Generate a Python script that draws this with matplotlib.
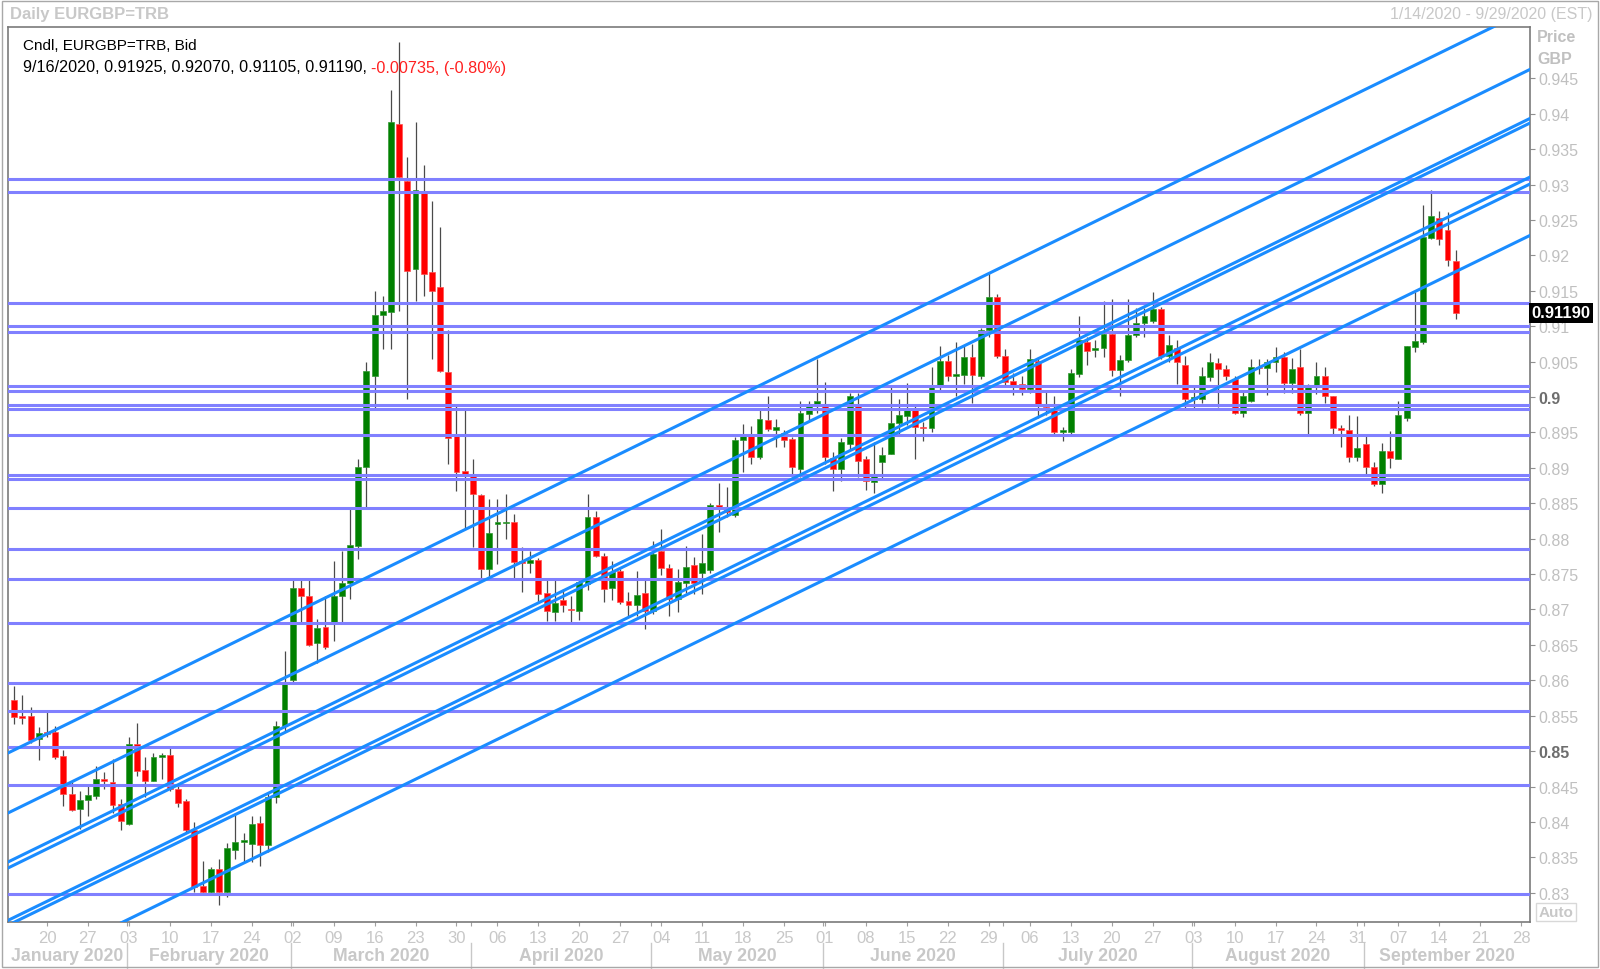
import numpy as np
import pandas as pd
import matplotlib
matplotlib.use('Agg')
import matplotlib.pyplot as plt
from matplotlib.patches import Rectangle
from matplotlib.transforms import blended_transform_factory

W, H = 1600, 970

# daily EURGBP bars, one per weekday from 14 Jan 2020 to 16 Sep 2020
opens = [0.8572, 0.8549, 0.8550, 0.8517, 0.8527, 0.8527, 0.8493, 0.8439, 0.8418, 0.8431,
         0.8437, 0.8460, 0.8456, 0.8426, 0.8397, 0.8510, 0.8473, 0.8458, 0.8492, 0.8495,
         0.8447, 0.8429, 0.8388, 0.8309, 0.8301, 0.8334, 0.8301, 0.8360, 0.8372, 0.8369,
         0.8398, 0.8367, 0.8435, 0.8536, 0.8600, 0.8730, 0.8719, 0.8653, 0.8675, 0.8683,
         0.8719, 0.8738, 0.8790, 0.8901, 0.9030, 0.9116, 0.9120, 0.9386, 0.9305, 0.9181,
         0.9289, 0.9176, 0.9156, 0.9036, 0.8945, 0.8895, 0.8888, 0.8861, 0.8757, 0.8821,
         0.8822, 0.8824, 0.8768, 0.8766, 0.8770, 0.8723, 0.8697, 0.8713, 0.8701, 0.8698,
         0.8736, 0.8830, 0.8776, 0.8730, 0.8754, 0.8712, 0.8707, 0.8723, 0.8698, 0.8782,
         0.8759, 0.8715, 0.8737, 0.8763, 0.8751, 0.8756, 0.8847, 0.8845, 0.8833, 0.8939,
         0.8945, 0.8915, 0.8967, 0.8953, 0.8949, 0.8941, 0.8898, 0.8976, 0.8988, 0.8988,
         0.8914, 0.8899, 0.8934, 0.8988, 0.8912, 0.8880, 0.8908, 0.8920, 0.8963, 0.8973,
         0.8981, 0.8958, 0.8956, 0.9014, 0.9051, 0.9030, 0.9031, 0.9056, 0.9030, 0.9094,
         0.9141, 0.9058, 0.9023, 0.9019, 0.9012, 0.9051, 0.8988, 0.8985, 0.8951, 0.8950,
         0.9033, 0.9078, 0.9067, 0.9069, 0.9089, 0.9038, 0.9052, 0.9087, 0.9104, 0.9108,
         0.9124, 0.9058, 0.9069, 0.9045, 0.8998, 0.8997, 0.9028, 0.9048, 0.9039, 0.9026,
         0.8978, 0.8995, 0.9043, 0.9041, 0.9050, 0.9056, 0.9020, 0.9042, 0.8978, 0.9016,
         0.9029, 0.9002, 0.8956, 0.8953, 0.8915, 0.8933, 0.8901, 0.8877, 0.8924, 0.8912,
         0.8971, 0.9071, 0.9078, 0.9225, 0.9253, 0.9236, 0.91925]
highs = [0.8592, 0.8579, 0.8562, 0.8534, 0.8555, 0.8535, 0.8502, 0.8458, 0.8444, 0.8451,
         0.8479, 0.8470, 0.8489, 0.8433, 0.8520, 0.8539, 0.8491, 0.8498, 0.8498, 0.8504,
         0.8454, 0.8433, 0.8400, 0.8345, 0.8336, 0.8348, 0.8370, 0.8411, 0.8385, 0.8409,
         0.8409, 0.8442, 0.8543, 0.8642, 0.8741, 0.8741, 0.8745, 0.8687, 0.8719, 0.8769,
         0.8782, 0.8842, 0.8913, 0.9049, 0.9150, 0.9143, 0.9434, 0.9501, 0.9339, 0.9389,
         0.9327, 0.9277, 0.9240, 0.9094, 0.8988, 0.8985, 0.8913, 0.8863, 0.8856, 0.8856,
         0.8863, 0.8835, 0.8788, 0.8783, 0.8772, 0.8741, 0.8745, 0.8729, 0.8719, 0.8744,
         0.8863, 0.8839, 0.8780, 0.8769, 0.8757, 0.8724, 0.8755, 0.8741, 0.8797, 0.8814,
         0.8764, 0.8757, 0.8790, 0.8774, 0.8807, 0.8851, 0.8879, 0.8873, 0.8943, 0.8962,
         0.8959, 0.8981, 0.9002, 0.8969, 0.8954, 0.8943, 0.8995, 0.8995, 0.9054, 0.9021,
         0.8922, 0.8942, 0.9006, 0.9005, 0.8917, 0.8936, 0.8930, 0.9014, 0.8997, 0.9020,
         0.8988, 0.8965, 0.9042, 0.9072, 0.9060, 0.9077, 0.9074, 0.9075, 0.9097, 0.9176,
         0.9145, 0.9068, 0.9034, 0.9029, 0.9068, 0.9056, 0.9010, 0.9002, 0.8958, 0.9040,
         0.9114, 0.9085, 0.9080, 0.9136, 0.9139, 0.9060, 0.9138, 0.9126, 0.9126, 0.9148,
         0.9127, 0.9087, 0.9080, 0.9058, 0.9014, 0.9042, 0.9062, 0.9055, 0.9045, 0.9030,
         0.9009, 0.9054, 0.9054, 0.9053, 0.9071, 0.9064, 0.9055, 0.9068, 0.9018, 0.9050,
         0.9042, 0.9002, 0.8960, 0.8975, 0.8973, 0.8946, 0.8908, 0.8935, 0.8952, 0.8994,
         0.9072, 0.9149, 0.9271, 0.9293, 0.9263, 0.9261, 0.92070]
lows = [0.8538, 0.8538, 0.8512, 0.8487, 0.8520, 0.8489, 0.8423, 0.8416, 0.8390, 0.8409,
        0.8433, 0.8447, 0.8413, 0.8388, 0.8395, 0.8465, 0.8435, 0.8458, 0.8461, 0.8444,
        0.8421, 0.8385, 0.8301, 0.8300, 0.8298, 0.8282, 0.8294, 0.8348, 0.8343, 0.8344,
        0.8338, 0.8358, 0.8427, 0.8527, 0.8597, 0.8682, 0.8649, 0.8625, 0.8644, 0.8656,
        0.8682, 0.8715, 0.8771, 0.8844, 0.8983, 0.9068, 0.9068, 0.9122, 0.8997, 0.9136,
        0.9143, 0.9054, 0.9035, 0.8905, 0.8868, 0.8814, 0.8788, 0.8743, 0.8743, 0.8764,
        0.8800, 0.8745, 0.8724, 0.8752, 0.8710, 0.8684, 0.8684, 0.8696, 0.8682, 0.8685,
        0.8727, 0.8774, 0.8710, 0.8713, 0.8708, 0.8691, 0.8691, 0.8672, 0.8694, 0.8749,
        0.8691, 0.8697, 0.8723, 0.8722, 0.8722, 0.8752, 0.8809, 0.8831, 0.8831, 0.8894,
        0.8906, 0.8913, 0.8952, 0.8929, 0.8929, 0.8887, 0.8887, 0.8967, 0.8977, 0.8905,
        0.8868, 0.8881, 0.8926, 0.8887, 0.8869, 0.8865, 0.8884, 0.8919, 0.8946, 0.8961,
        0.8912, 0.8938, 0.8951, 0.9010, 0.9022, 0.9002, 0.9019, 0.8992, 0.9025, 0.9085,
        0.9055, 0.9014, 0.9003, 0.9003, 0.9005, 0.8971, 0.8975, 0.8946, 0.8938, 0.8948,
        0.9028, 0.9045, 0.9057, 0.9057, 0.9030, 0.9001, 0.9050, 0.9085, 0.9085, 0.9104,
        0.9053, 0.9049, 0.9019, 0.8983, 0.8985, 0.8992, 0.9022, 0.8986, 0.9024, 0.8976,
        0.8972, 0.8993, 0.9032, 0.9003, 0.9035, 0.9006, 0.9005, 0.8975, 0.8948, 0.9004,
        0.8991, 0.8948, 0.8930, 0.8908, 0.8910, 0.8892, 0.8875, 0.8865, 0.8900, 0.8912,
        0.8966, 0.9064, 0.9075, 0.9223, 0.9215, 0.9185, 0.91105]
closes = [0.8548, 0.8547, 0.8516, 0.8526, 0.8524, 0.8492, 0.8439, 0.8417, 0.8431, 0.8438,
          0.8461, 0.8458, 0.8424, 0.8402, 0.8510, 0.8472, 0.8458, 0.8491, 0.8494, 0.8447,
          0.8427, 0.8389, 0.8308, 0.8301, 0.8334, 0.8301, 0.8363, 0.8371, 0.8374, 0.8397,
          0.8367, 0.8435, 0.8536, 0.8598, 0.8730, 0.8719, 0.8650, 0.8674, 0.8647, 0.8719,
          0.8738, 0.8791, 0.8901, 0.9037, 0.9116, 0.9122, 0.9389, 0.9310, 0.9178, 0.9292,
          0.9174, 0.9150, 0.9037, 0.8942, 0.8894, 0.8892, 0.8863, 0.8757, 0.8808, 0.8823,
          0.8824, 0.8767, 0.8766, 0.8770, 0.8722, 0.8698, 0.8709, 0.8706, 0.8699, 0.8739,
          0.8830, 0.8776, 0.8729, 0.8753, 0.8710, 0.8707, 0.8721, 0.8698, 0.8778, 0.8759,
          0.8715, 0.8739, 0.8760, 0.8737, 0.8765, 0.8847, 0.8845, 0.8837, 0.8939, 0.8945,
          0.8916, 0.8969, 0.8955, 0.8958, 0.8939, 0.8901, 0.8977, 0.8988, 0.8994, 0.8915,
          0.8899, 0.8936, 0.9001, 0.8910, 0.8882, 0.8891, 0.8918, 0.8963, 0.8975, 0.8981,
          0.8957, 0.8956, 0.9014, 0.9051, 0.9030, 0.9032, 0.9056, 0.9031, 0.9094, 0.9141,
          0.9058, 0.9021, 0.9014, 0.9012, 0.9054, 0.8988, 0.8986, 0.8950, 0.8953, 0.9034,
          0.9080, 0.9065, 0.9069, 0.9089, 0.9038, 0.9052, 0.9087, 0.9104, 0.9114, 0.9125,
          0.9058, 0.9074, 0.9049, 0.8997, 0.8999, 0.9030, 0.9049, 0.9039, 0.9030, 0.8978,
          0.9002, 0.9043, 0.9041, 0.9050, 0.9056, 0.9020, 0.9039, 0.8978, 0.9017, 0.9029,
          0.9002, 0.8956, 0.8954, 0.8915, 0.8928, 0.8901, 0.8877, 0.8924, 0.8914, 0.8974,
          0.9072, 0.9079, 0.9226, 0.9256, 0.9223, 0.9193, 0.91190]

# horizontal support / resistance levels
h_levels = [0.93078, 0.92899, 0.91323, 0.90998, 0.90913, 0.90160, 0.90089, 0.89891,
            0.89830, 0.89468, 0.88899, 0.88842, 0.88433, 0.87854, 0.87430, 0.86809,
            0.85957, 0.85562, 0.85062, 0.84526, 0.82982]

# rising channel lines, two anchors each: (bar index, price)
trend_lines = [
    ((-0.52, 0.84987), (180.55, 0.95225)),
    ((-0.52, 0.84140), (185.07, 0.94626)),
    ((-0.52, 0.83448), (185.07, 0.93934)),
    ((-0.52, 0.83363), (185.07, 0.93869)),
    ((-0.92, 0.82601), (185.07, 0.93106)),
    ((0.30, 0.82601), (185.07, 0.93008)),
    ((13.52, 0.82601), (185.07, 0.92282)),
]

y_ticks = [0.83, 0.835, 0.84, 0.845, 0.85, 0.855, 0.86, 0.865, 0.87, 0.875, 0.88, 0.885,
           0.89, 0.895, 0.9, 0.905, 0.91, 0.915, 0.92, 0.925, 0.93, 0.935, 0.94, 0.945]
bold_ticks = [0.85, 0.9]
last_price = 0.91190
change = -0.00735
change_pct = -0.80

days = pd.bdate_range('2020-01-14', '2020-09-29')

LIGHT = '#c8c8c8'
NARROW = ['Liberation Sans Narrow', 'Liberation Sans']
plt.rcParams['font.family'] = ['Liberation Sans', 'DejaVu Sans']

fig = plt.figure(figsize=(W / 100, H / 100), dpi=100)
ax = fig.add_axes([8 / W, 1 - 923 / H, 1522 / W, 895 / H])
ax.set_xlim(-0.76, 185.07)
ax.set_ylim(0.82587, 0.95225)

# candles
o, hi, lo, c = map(np.array, (opens, highs, lows, closes))
x = np.arange(len(o))
up = c >= o
ax.vlines(x, lo, hi, color='#4a4a4a', lw=0.9, zorder=2)
body_h = np.maximum(np.abs(c - o), 0.00022)
body_lo = (o + c) / 2 - body_h / 2
ax.bar(x[up], body_h[up], bottom=body_lo[up], width=0.72, color='#008000',
       edgecolor='#339933', lw=0.5, zorder=3)
ax.bar(x[~up], body_h[~up], bottom=body_lo[~up], width=0.72, color='#ff0000',
       edgecolor='#ff5050', lw=0.5, zorder=3)

# levels and channels
ax.hlines(h_levels, -5, 190, color='#8080ff', lw=2.2, zorder=4)
for (i0, p0), (i1, p1) in trend_lines:
    slope = (p1 - p0) / (i1 - i0)
    xs = np.array([-5.0, 190.0])
    ax.plot(xs, p0 + slope * (xs - i0), color='#1a8cff', lw=2.2, zorder=5,
            solid_capstyle='butt')

for sp in ax.spines.values():
    sp.set_color('#7a7a7a')
    sp.set_linewidth(1.2)

# right price axis
ax.yaxis.tick_right()
ax.set_yticks(y_ticks)
ax.set_yticklabels([f'{v:g}' for v in y_ticks])
ax.tick_params(axis='y', length=3.5, width=0.8, color='#909090', pad=2.5,
               labelsize=11.5, labelcolor='#c0c0c0')
for v, lab in zip(y_ticks, ax.get_yticklabels()):
    if v in bold_ticks:
        lab.set_fontweight('bold')
        lab.set_color('#6e6e6e')

# bottom day ticks on Mondays, month row below
mondays = [i for i, d in enumerate(days) if d.weekday() == 0]
ax.set_xticks(mondays)
ax.set_xticklabels([f'{days[i].day:02d}' for i in mondays])
ax.tick_params(axis='x', length=3, width=0.8, color='#a0a0a0', pad=3,
               labelsize=12, labelcolor=LIGHT)
for lab in ax.get_xticklabels():
    lab.set_family(NARROW)

bt = blended_transform_factory(ax.transData, ax.transAxes)
month_first = [i for i in range(1, len(days)) if days[i].month != days[i - 1].month]
bounds = [ax.get_xlim()[0]] + [i - 0.25 for i in month_first] + [ax.get_xlim()[1]]
ax.set_xticks(bounds[1:-1], minor=True)
ax.tick_params(axis='x', which='minor', length=3, width=0.8, color='#a0a0a0')
month_names = [days[0].strftime('%B %Y')] + [days[i].strftime('%B %Y') for i in month_first]
y_month = -(957 - 923) / 895
for k, name in enumerate(month_names):
    ax.text((bounds[k] + bounds[k + 1]) / 2, y_month, name, transform=bt, ha='center',
            va='center', fontsize=12.7, fontweight='bold', color=LIGHT,
            family=NARROW, clip_on=False)
for b in bounds[1:-1]:
    ax.plot([b, b], [-(944 - 923) / 895, -(970 - 923) / 895], transform=bt,
            color=LIGHT, lw=1, clip_on=False)

# last price tag
ax.text(1.0012, last_price, f'{last_price:.5f}',
        transform=blended_transform_factory(ax.transAxes, ax.transData),
        color='white', fontweight='bold', fontsize=12, ha='left', va='center',
        bbox=dict(boxstyle='square,pad=0.16', fc='black', ec='none'),
        zorder=20, clip_on=False)

# header texts
fig.text(10 / W, 1 - 15 / H, 'Daily EURGBP=TRB', fontsize=12, fontweight='bold',
         color=LIGHT, va='center')
fig.text(1593 / W, 1 - 15 / H, '1/14/2020 - 9/29/2020 (EST)', fontsize=11.5,
         color=LIGHT, va='center', ha='right')
fig.text(1537 / W, 1 - 38 / H, 'Price', fontsize=11.5, fontweight='bold', color='#c0c0c0',
         va='center')
fig.text(1537 / W, 1 - 59 / H, 'GBP', fontsize=11.5, fontweight='bold', color='#c0c0c0',
         va='center')
fig.text(1556 / W, 1 - 913 / H, 'Auto', fontsize=11, fontweight='bold', color=LIGHT,
         ha='center', va='center',
         bbox=dict(boxstyle='square,pad=0.15', fc='white', ec='#d8d8d8', lw=1))

fig.text(23 / W, 1 - 46 / H, 'Cndl, EURGBP=TRB, Bid', fontsize=11, color='black',
         va='center', zorder=30)
last_day = days[len(o) - 1]
vals = f'{last_day.month}/{last_day.day}/{last_day.year}, ' \
       f'{opens[-1]:.5f}, {highs[-1]:.5f}, {lows[-1]:.5f}, {closes[-1]:.5f},'
t1 = fig.text(23 / W, 1 - 68 / H, vals, fontsize=11.6, color='black', va='center', zorder=30)
fig.canvas.draw()
bb = t1.get_window_extent(fig.canvas.get_renderer())
fig.text((bb.x1 + 4) / W, 1 - 68 / H, f'{change:.5f}, ({change_pct:.2f}%)',
         fontsize=11.6, color='#ff2020', va='center', zorder=30)

fig.patches.append(Rectangle((2 / W, 2 / H), 1596 / W, 966 / H, transform=fig.transFigure,
                             fill=False, ec='#a8a8a8', lw=1))

fig.savefig('out.png', dpi=100)
